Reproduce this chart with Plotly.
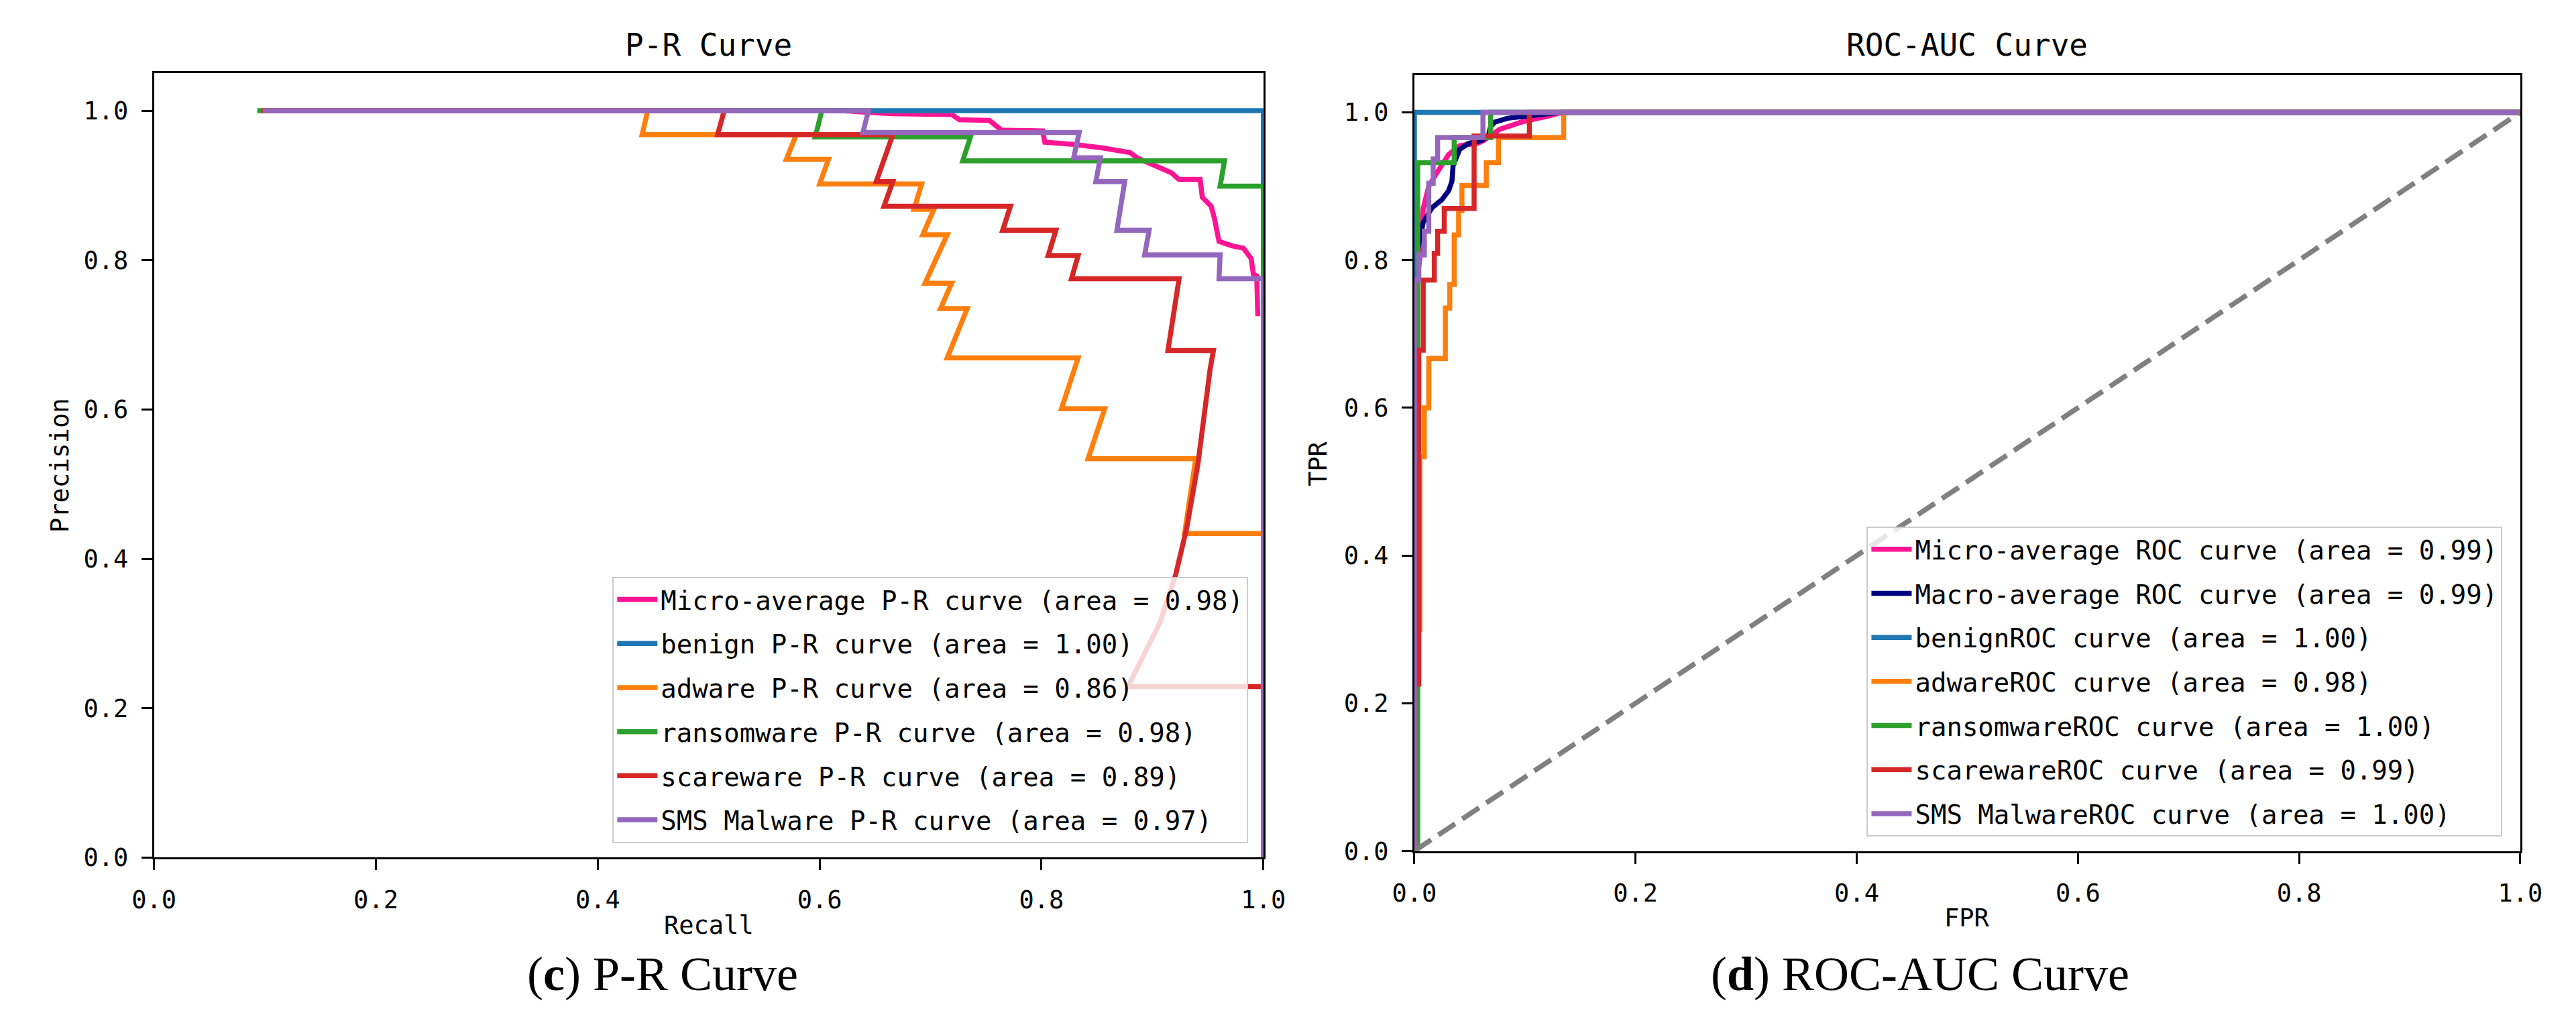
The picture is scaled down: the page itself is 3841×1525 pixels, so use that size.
import plotly.graph_objects as go

# ---- P-R curve data (recall, precision) ----
pr_micro_recall = [0.097, 0.62, 0.665, 0.719, 0.726, 0.753, 0.764, 0.801, 0.803, 0.829, 0.856, 0.880, 0.886,
                   0.900, 0.917, 0.924, 0.943, 0.945, 0.953, 0.956, 0.960, 0.972, 0.982, 0.989, 0.991, 0.994, 0.995]
pr_micro_precision = [1.0, 1.0, 0.996, 0.995, 0.988, 0.987, 0.974, 0.973, 0.958, 0.955, 0.950, 0.944, 0.937,
                      0.928, 0.917, 0.908, 0.908, 0.884, 0.872, 0.855, 0.825, 0.819, 0.816, 0.802, 0.781, 0.779, 0.725]

pr_benign_recall = [0.097, 1.0, 1.0]
pr_benign_precision = [1.0, 1.0, 0.0]

pr_adware_recall = [0.097, 0.445, 0.440, 0.579, 0.570, 0.608, 0.600, 0.692, 0.685, 0.703, 0.693, 0.715, 0.695,
                    0.719, 0.709, 0.733, 0.715, 0.833, 0.818, 0.857, 0.842, 0.939, 0.929, 1.0, 1.0]
pr_adware_precision = [1.0, 1.0, 0.968, 0.968, 0.935, 0.935, 0.902, 0.902, 0.868, 0.868, 0.834, 0.834, 0.769,
                       0.769, 0.735, 0.735, 0.669, 0.669, 0.601, 0.601, 0.534, 0.534, 0.434, 0.434, 0.0]

pr_ransom_recall = [0.093, 0.602, 0.596, 0.736, 0.729, 0.965, 0.961, 1.0, 1.0]
pr_ransom_precision = [1.0, 1.0, 0.965, 0.965, 0.933, 0.933, 0.899, 0.899, 0.0]

pr_scare_recall = [0.097, 0.514, 0.508, 0.666, 0.651, 0.666, 0.658, 0.772, 0.765, 0.813, 0.806, 0.833, 0.827,
                   0.924, 0.914, 0.955, 0.952, 0.947, 0.941, 0.931, 0.921, 0.907, 0.893, 0.878, 1.0, 1.0]
pr_scare_precision = [1.0, 1.0, 0.968, 0.968, 0.905, 0.905, 0.872, 0.872, 0.840, 0.840, 0.806, 0.806, 0.775,
                      0.775, 0.679, 0.679, 0.654, 0.600, 0.527, 0.442, 0.379, 0.315, 0.273, 0.229, 0.229, 0.0]

pr_sms_recall = [0.098, 0.644, 0.639, 0.834, 0.829, 0.853, 0.849, 0.875, 0.868, 0.897, 0.893, 0.961, 0.960, 1.0, 1.0]
pr_sms_precision = [1.0, 1.0, 0.971, 0.971, 0.937, 0.937, 0.905, 0.905, 0.840, 0.840, 0.807, 0.807, 0.775, 0.775, 0.0]

# ---- ROC curve data (fpr, tpr) ----
roc_micro_fpr = [0.0, 0.0, 0.003, 0.005, 0.008, 0.013, 0.019, 0.025, 0.031, 0.041, 0.057, 0.063, 0.077, 0.087,
                 0.097, 0.121, 0.131, 0.138, 1.0]
roc_micro_tpr = [0.0, 0.70, 0.78, 0.803, 0.87, 0.90, 0.915, 0.93, 0.943, 0.955, 0.958, 0.962, 0.977, 0.982,
                 0.987, 0.995, 0.999, 1.0, 1.0]

roc_macro_fpr = [0.0, 0.0, 0.003, 0.008, 0.016, 0.025, 0.031, 0.034, 0.035, 0.041, 0.049, 0.061, 0.067, 0.069,
                 0.073, 0.084, 0.102, 0.128, 0.132, 1.0]
roc_macro_tpr = [0.0, 0.78, 0.815, 0.851, 0.871, 0.882, 0.894, 0.907, 0.928, 0.950, 0.958, 0.962, 0.969, 0.981,
                 0.987, 0.992, 0.995, 0.998, 1.0, 1.0]

roc_benign_fpr = [0.0, 0.0, 1.0]
roc_benign_tpr = [0.0, 1.0, 1.0]

roc_adware_fpr = [0.0, 0.0, 0.005, 0.005, 0.009, 0.009, 0.013, 0.013, 0.028, 0.028, 0.032, 0.032, 0.036, 0.036,
                  0.040, 0.040, 0.043, 0.043, 0.065, 0.065, 0.076, 0.076, 0.135, 0.135, 1.0]
roc_adware_tpr = [0.0, 0.30, 0.30, 0.534, 0.534, 0.600, 0.600, 0.667, 0.667, 0.735, 0.735, 0.767, 0.767, 0.834,
                  0.834, 0.867, 0.867, 0.901, 0.901, 0.932, 0.932, 0.966, 0.966, 1.0, 1.0]

roc_ransom_fpr = [0.0, 0.003, 0.003, 0.036, 0.036, 0.069, 0.069, 1.0]
roc_ransom_tpr = [0.0, 0.0, 0.932, 0.932, 0.966, 0.966, 1.0, 1.0]

roc_scare_fpr = [0.0, 0.0, 0.004, 0.004, 0.008, 0.008, 0.018, 0.018, 0.021, 0.021, 0.027, 0.027, 0.054, 0.054,
                 0.104, 0.104, 1.0]
roc_scare_tpr = [0.0, 0.226, 0.226, 0.678, 0.678, 0.773, 0.773, 0.809, 0.809, 0.839, 0.839, 0.870, 0.870, 0.968,
                 0.968, 1.0, 1.0]

roc_sms_fpr = [0.0, 0.0, 0.004, 0.004, 0.009, 0.009, 0.013, 0.013, 0.017, 0.017, 0.021, 0.021, 0.062, 0.062, 1.0]
roc_sms_tpr = [0.0, 0.773, 0.773, 0.807, 0.807, 0.839, 0.839, 0.904, 0.904, 0.937, 0.937, 0.966, 0.966, 1.0, 1.0]

chance_x = [0.0, 1.0]
chance_y = [0.0, 1.0]

pr_names = ["Micro-average P-R curve (area = 0.98)", "benign P-R curve (area = 1.00)",
            "adware P-R curve (area = 0.86)", "ransomware P-R curve (area = 0.98)",
            "scareware P-R curve (area = 0.89)", "SMS Malware P-R curve (area = 0.97)"]
roc_names = ["Micro-average ROC curve (area = 0.99)", "Macro-average ROC curve (area = 0.99)",
             "benignROC curve (area = 1.00)", "adwareROC curve (area = 0.98)",
             "ransomwareROC curve (area = 1.00)", "scarewareROC curve (area = 0.99)",
             "SMS MalwareROC curve (area = 1.00)"]

PINK = "#ff1493"
NAVY = "#000080"
BLUE = "#1f77b4"
ORANGE = "#ff7f0e"
GREEN = "#2ca02c"
RED = "#d62728"
PURPLE = "#9467bd"
LW = 7.5
MONO = "DejaVu Sans Mono"

fig = go.Figure()

pr_series = [(pr_micro_recall, pr_micro_precision, PINK),
             (pr_benign_recall, pr_benign_precision, BLUE),
             (pr_adware_recall, pr_adware_precision, ORANGE),
             (pr_ransom_recall, pr_ransom_precision, GREEN),
             (pr_scare_recall, pr_scare_precision, RED),
             (pr_sms_recall, pr_sms_precision, PURPLE)]
for i, (x, y, c) in enumerate(pr_series):
    fig.add_trace(go.Scatter(x=x, y=y, mode="lines", name=pr_names[i], line=dict(color=c, width=LW),
                             xaxis="x", yaxis="y", legend="legend", legendgroup="pr%d" % i))

roc_series = [(roc_micro_fpr, roc_micro_tpr, PINK),
              (roc_macro_fpr, roc_macro_tpr, NAVY),
              (roc_benign_fpr, roc_benign_tpr, BLUE),
              (roc_adware_fpr, roc_adware_tpr, ORANGE),
              (roc_ransom_fpr, roc_ransom_tpr, GREEN),
              (roc_scare_fpr, roc_scare_tpr, RED),
              (roc_sms_fpr, roc_sms_tpr, PURPLE)]
for i, (x, y, c) in enumerate(roc_series):
    fig.add_trace(go.Scatter(x=x, y=y, mode="lines", name=roc_names[i], line=dict(color=c, width=LW),
                             xaxis="x2", yaxis="y2", legend="legend2", legendgroup="roc%d" % i))

fig.add_trace(go.Scatter(x=chance_x, y=chance_y, mode="lines", showlegend=False,
                         line=dict(color="#808080", width=LW, dash="30px,13px"), xaxis="x2", yaxis="y2"))

ticks = [0, 0.2, 0.4, 0.6, 0.8, 1.0]
axis_style = dict(showgrid=False, zeroline=False, showline=True, mirror=True, linecolor="black", linewidth=3,
                  ticks="outside", ticklen=16, tickwidth=3, tickcolor="black", tickvals=ticks, tickformat=".1f",
                  tickfont=dict(family=MONO, size=37, color="black"), ticklabelstandoff=12, fixedrange=True)

legend_style = dict(font=dict(family=MONO, size=39, color="black"), bgcolor="rgba(255,255,255,0.8)",
                    bordercolor="#cccccc", borderwidth=2, xanchor="right", yanchor="bottom",
                    traceorder="grouped", tracegroupgap=12, itemwidth=60)

fig.update_layout(
    width=3841, height=1525,
    margin=dict(l=0, r=0, t=0, b=0),
    paper_bgcolor="white", plot_bgcolor="white",
    xaxis=dict(domain=[0.04999, 0.48815], range=[0, 1], anchor="y", **axis_style),
    yaxis=dict(domain=[0.1548, 0.9325], range=[0, 1.05], anchor="x", **axis_style),
    xaxis2=dict(domain=[0.5478, 0.9846], range=[0, 1], anchor="y2", **axis_style),
    yaxis2=dict(domain=[0.1613, 0.9305], range=[0, 1.05], anchor="x2", **axis_style),
    legend=dict(x=0.4822, y=0.1692, **legend_style),
    legend2=dict(x=0.9776, y=0.1757, **legend_style),
)

title_font = dict(family=MONO, size=46, color="black")
label_font = dict(family=MONO, size=37, color="black")
cap_font = dict(family="Liberation Serif", size=72, color="black")
notes = [
    dict(text="P-R Curve", x=0.2691, y=0.9607, font=title_font),
    dict(text="ROC-AUC Curve", x=0.7662, y=0.9607, font=title_font),
    dict(text="Recall", x=0.2691, y=0.0872, font=label_font),
    dict(text="FPR", x=0.7662, y=0.0951, font=label_font),
    dict(text="Precision", x=0.0130, y=0.5436, font=label_font, textangle=-90),
    dict(text="TPR", x=0.5098, y=0.5459, font=label_font, textangle=-90),
    dict(text="(<b>c</b>) P-R Curve", x=0.2508, y=0.0393, font=cap_font),
    dict(text="(<b>d</b>) ROC-AUC Curve", x=0.7475, y=0.0393, font=cap_font),
]
for n in notes:
    fig.add_annotation(xref="paper", yref="paper", showarrow=False, xanchor="center", yanchor="middle", **n)

fig.write_html("out.html")
